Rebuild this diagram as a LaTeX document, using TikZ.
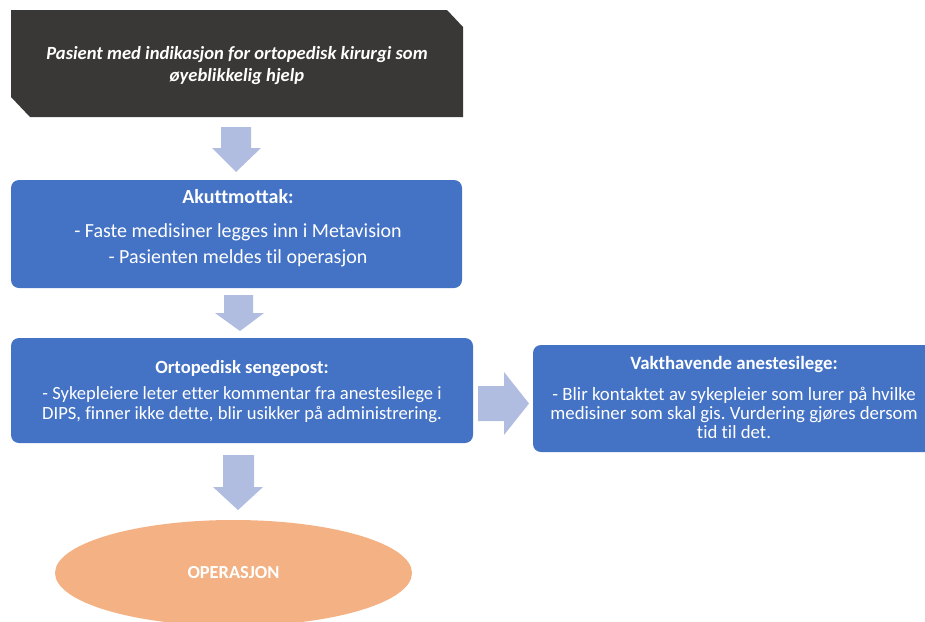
\documentclass[tikz,border=0pt]{standalone}
\usepackage{fontspec}
\setmainfont{Carlito}[Ligatures={NoCommon}]
\frenchspacing
\usetikzlibrary{shapes.geometric}
\definecolor{darkbox}{HTML}{3A3836}
\definecolor{bluebox}{HTML}{4472C4}
\definecolor{arrowfill}{HTML}{B0BDE1}
\definecolor{ovalfill}{HTML}{F4B183}
\tikzset{
  stepbox/.style={fill=bluebox, draw=none, rounded corners=8pt, inner sep=0pt},
  boxtext/.style={text=white, align=center, inner sep=0pt},
  endoval/.style={ellipse, fill=ovalfill, draw=none, minimum width=357pt,
    minimum height=106pt, inner sep=0pt, text=white},
  blockarrow/.style={fill=arrowfill, draw=none},
}
\begin{document}
\begin{tikzpicture}[x=1pt,y=-1pt]
  \useasboundingbox (0,0) rectangle (925,621);
  \begin{scope}
  \clip (0,0) rectangle (925,621);

  % start box with two snipped corners
  \fill[darkbox] (11,10) -- (447,10) -- (463,27) -- (463,117) -- (30,117)
    -- (11,97) -- cycle;
  \node[boxtext, font={\fontsize{18.6}{22}\selectfont\bfseries\itshape}] (starttxt) at (237,66)
    {Pasient med indikasjon for ortopedisk kirurgi som\\
     øyeblikkelig hjelp};

  % emergency department
  \node[stepbox, minimum width=451pt, minimum height=108pt] (akutt) at (236.5,234) {};
  \node[boxtext, font={\fontsize{20}{26}\selectfont}] (akutttxt) at (238,228)
    {{\bfseries Akuttmottak:}\\[8pt]
     - Faste medisiner legges inn i Metavision\\
     - Pasienten meldes til operasjon};

  % ward
  \node[stepbox, minimum width=462pt, minimum height=105pt] (ward) at (242,390.5) {};
  \node[boxtext, font={\fontsize{18.6}{20}\selectfont}] (wardtxt) at (242,392)
    {{\bfseries Ortopedisk sengepost:}\\[6pt]
     - Sykepleiere leter etter kommentar fra anestesilege i\\
     DIPS, finner ikke dette, blir usikker på administrering.};

  % anaesthesiologist on duty
  \node[stepbox, minimum width=402pt, minimum height=107pt] (anest) at (734,398.5) {};
  \node[boxtext, font={\fontsize{18.8}{19}\selectfont}] (anesttxt) at (734,397.5)
    {{\bfseries Vakthavende anestesilege:}\\[12pt]
     - Blir kontaktet av sykepleier som lurer på hvilke\\
     medisiner som skal gis. Vurdering gjøres dersom\\
     tid til det.};

  % operation
  \node[endoval, font={\fontsize{18.4}{20}\selectfont\bfseries}] (op) at (233.5,573)
    {OPERASJON};

  % block arrows
  \fill[blockarrow] (221,127) -- (251,127) -- (251,148) -- (261,148) -- (236,172)
    -- (212,148) -- (221,148) -- cycle;
  \fill[blockarrow] (224,295) -- (253,295) -- (253,313) -- (264,313) -- (240,331)
    -- (215,313) -- (224,313) -- cycle;
  \fill[blockarrow] (478,386) -- (504,386) -- (504,372) -- (529,403.5) -- (504,435)
    -- (504,421) -- (478,421) -- cycle;
  \fill[blockarrow] (223,455) -- (254,455) -- (254,487) -- (263,487) -- (238,510)
    -- (213,487) -- (223,487) -- cycle;
  \end{scope}
\end{tikzpicture}
\end{document}
